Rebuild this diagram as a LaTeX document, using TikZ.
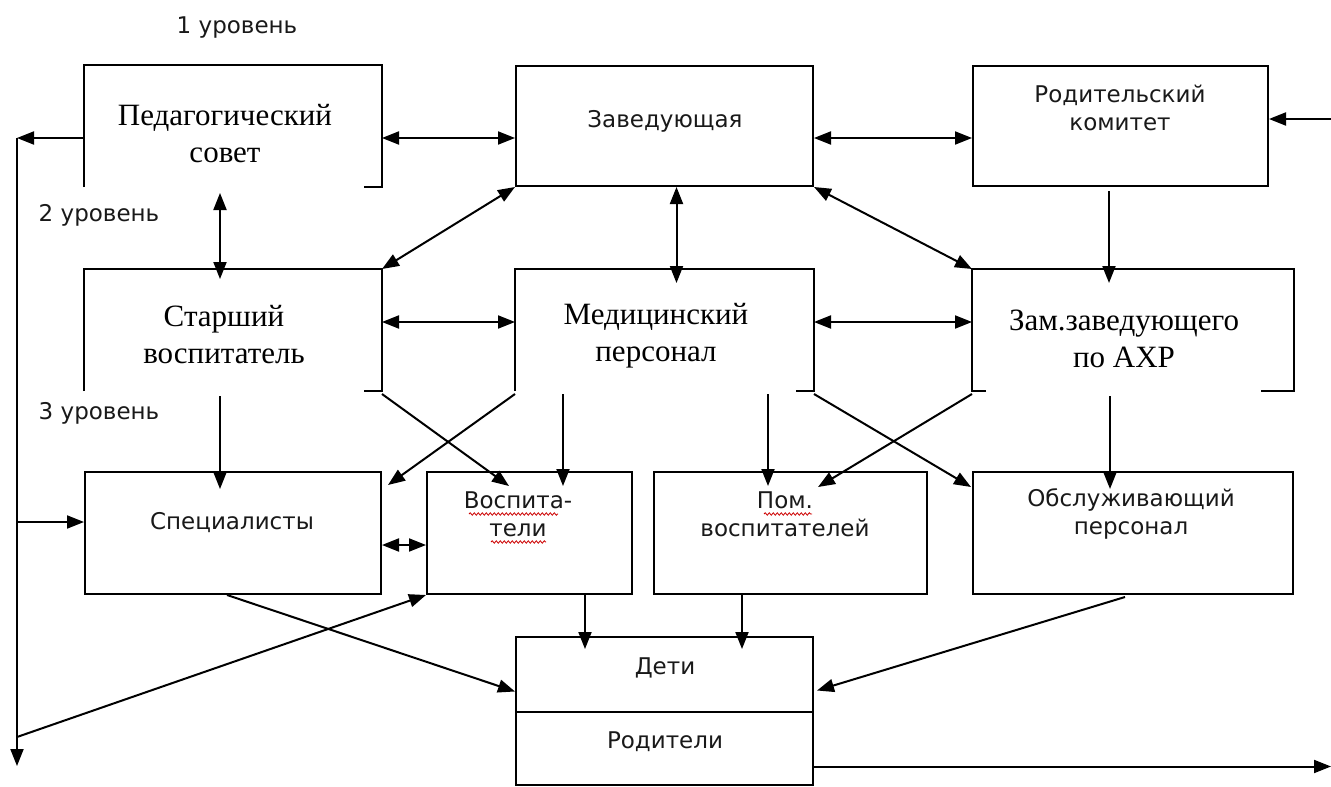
\documentclass[tikz,border=0pt]{standalone}
\usepackage{fontspec}
\setmainfont{Liberation Serif}
\newfontfamily\sansf{DejaVu Sans}
\usetikzlibrary{arrows.meta,decorations.pathmorphing}
\begin{document}
\begin{tikzpicture}[x=1pt,y=-1pt,line width=2pt,
  boxshape/.style={rectangle,inner sep=0pt,minimum height=120pt},
  fullbox/.style={boxshape,draw},
  serift/.style={font=\fontsize{31}{37}\selectfont,align=center,inner sep=0pt},
  sanst/.style={font=\sansf\fontsize{23}{28}\selectfont,align=center,inner sep=0pt,text=black!90},
  arr/.style={-{Triangle[length=17pt,width=13pt]}},
  darr/.style={{Triangle[length=17pt,width=13pt]}-{Triangle[length=17pt,width=13pt]}},
  wave/.style={draw=red!80!black,line width=0.8pt,decorate,decoration={snake,amplitude=1.2pt,segment length=4pt}}
]
\useasboundingbox (0,0) rectangle (1331,787);
% boxes row 1
\node[boxshape,minimum width=296pt] (ped) at (233,126) {};
\draw (ped.south west) -- (ped.north west) -- (ped.north east) -- (ped.south east) -- ([xshift=-18pt]ped.south east);
\node[fullbox,minimum width=297pt] (zav) at (664.5,126) {};
\node[fullbox,minimum width=295pt] (kom) at (1120.5,126) {};
% row 2
\node[boxshape,minimum width=296pt] (star) at (233,330) {};
\draw (star.south west) -- (star.north west) -- (star.north east) -- (star.south east) -- ([xshift=-18pt]star.south east);
\node[boxshape,minimum width=297pt] (med) at (664.5,330) {};
\draw (med.south west) -- (med.north west) -- (med.north east) -- (med.south east) -- ([xshift=-18pt]med.south east);
\node[boxshape,minimum width=320pt] (zam) at (1133,330) {};
\draw ([xshift=14pt]zam.south west) -- (zam.south west) -- (zam.north west) -- (zam.north east) -- (zam.south east) -- ([xshift=-33pt]zam.south east);
% row 3
\node[fullbox,minimum width=296pt,minimum height=122pt] (spec) at (233,533) {};
\node[fullbox,minimum width=205pt,minimum height=122pt] (vosp) at (529.5,533) {};
\node[fullbox,minimum width=273pt,minimum height=122pt] (pom) at (790.5,533) {};
\node[fullbox,minimum width=320pt,minimum height=122pt] (obs) at (1133,533) {};
% bottom
\node[fullbox,minimum width=297pt,minimum height=75pt] (deti) at (664.5,674.5) {};
\node[fullbox,minimum width=297pt,minimum height=73pt] (rod) at (664.5,748.5) {};
% texts
\node[sanst] (lv1) at (237,28) {1 уровень};
\node[sanst] (lv2) at (99,215) {2 уровень};
\node[sanst] (lv3) at (99,413) {3 уровень};
\node[serift] (pedT) at (225,134) {Педагогический\\совет};
\node[sanst] (zavT) at (665,121) {Заведующая};
\node[sanst] (komT) at (1120,108) {Родительский\\комитет};
\node[serift] (starT) at (224,335) {Старший\\воспитатель};
\node[serift] (medT) at (656,336) {Медицинский\\персонал};
\node[serift] (zamT) at (1124,339) {Зам.заведующего\\по АХР};
\node[sanst] (specT) at (232,523) {Специалисты};
\node[sanst] (vospT) at (518,514) {Воспита-\\тели};
\node[sanst] (pomT) at (785,514) {Пом.\\воспитателей};
\node[sanst] (obsT) at (1131,514) {Обслуживающий\\персонал};
\node[sanst] (detiT) at (665,668) {Дети};
\node[sanst] (rodT) at (665,742) {Родители};
% spell-check waves
\draw[wave] (469,514) -- (558,514);
\draw[wave] (491,542) -- (546,542);
\draw[wave] (764,514) -- (812,514);
% free ends
\coordinate (L1) at (17,138);
\coordinate (L2) at (17,522);
\coordinate (L3) at (17,737);
\coordinate (L4) at (17,766);
\coordinate (R1) at (1331,119);
\coordinate (R2) at (1331,766.5);
% connectors
\draw[arr] ([yshift=-12pt]ped.west) -- (L1);
\draw[arr] (L1) -- (L4);
\draw[arr] (L2) -- (spec.west |- L2);
\draw[arr] (L3) -- (vosp.south west);
\draw[darr] ([yshift=-12pt]ped.east) -- ([yshift=-12pt]zav.west);
\draw[darr] ([yshift=-12pt]zav.east) -- ([yshift=-12pt]kom.west);
\draw[arr] (R1) -- (kom.east |- R1);
\draw[darr] ([xshift=-13pt,yshift=-6pt]ped.south) -- ([xshift=-13pt,yshift=-10pt]star.north);
\draw[darr] ([xshift=12pt]zav.south) -- ([xshift=12pt,yshift=-14pt]med.north);
\draw[arr] ([xshift=-11.5pt,yshift=-4pt]kom.south) -- ([xshift=-24pt,yshift=-14pt]zam.north);
\draw[darr] (zav.south west) -- (star.north east);
\draw[darr] (zav.south east) -- (zam.north west);
\draw[darr] ([yshift=8pt]star.east) -- ([yshift=8pt]med.west);
\draw[darr] ([yshift=8pt]med.east) -- ([yshift=8pt]zam.west);
\draw[arr] ([xshift=-13pt,yshift=-5pt]star.south) -- ([xshift=-13pt,yshift=-18pt]spec.north);
\draw[arr] ([yshift=-3pt]star.south east) -- ([xshift=83pt,yshift=-15pt]vosp.north west);
\draw[arr] ([yshift=-3pt]med.south west) -- ([xshift=6pt,yshift=-14pt]spec.north east);
\draw[arr] ([xshift=-101.5pt,yshift=-3pt]med.south) -- ([xshift=33.5pt,yshift=-15pt]vosp.north);
\draw[arr] ([xshift=103.5pt,yshift=-3pt]med.south) -- ([xshift=-22.5pt,yshift=-15pt]pom.north);
\draw[arr] ([yshift=-3pt]med.south east) -- ([xshift=-1pt,yshift=-16pt]obs.north west);
\draw[arr] ([yshift=-3pt]zam.south west) -- ([xshift=-110pt,yshift=-16pt]pom.north east);
\draw[arr] ([xshift=-23pt,yshift=-5pt]zam.south) -- ([xshift=-23pt,yshift=-18pt]obs.north);
\draw[darr] ([yshift=-12pt]spec.east) -- ([yshift=-12pt]vosp.west);
\draw[arr] ([xshift=-6pt]spec.south) -- ([yshift=-17pt]deti.west);
\draw[arr] ([xshift=55.5pt]vosp.south) -- ([xshift=-79.5pt,yshift=-13pt]deti.north);
\draw[arr] ([xshift=-48.5pt]pom.south) -- ([xshift=77.5pt,yshift=-13pt]deti.north);
\draw[arr] ([xshift=-8pt,yshift=-2pt]obs.south) -- ([xshift=3pt,yshift=-16pt]deti.east);
\draw[arr] (rod.east |- R2) -- (R2);
\end{tikzpicture}
\end{document}
